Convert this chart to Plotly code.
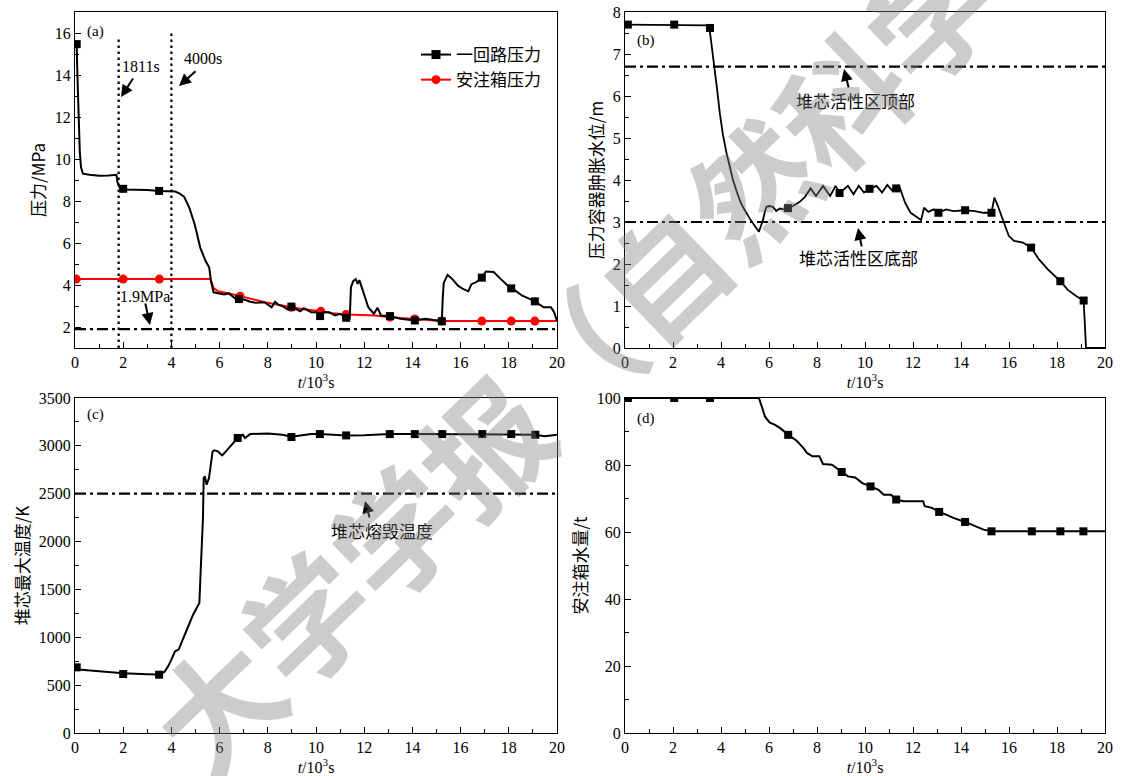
import plotly.graph_objects as go

# ---------------- data (time in 10^3 s) ----------------
# (a) pressures, MPa
t_a_primary = [0.0, 0.07, 0.1, 0.13, 0.17, 0.2, 0.25, 0.33, 0.6, 1.0, 1.4, 1.72, 1.76, 1.85, 2.0, 2.5, 3.0, 3.5,
               4.0, 4.16, 4.35, 4.53, 4.75, 4.97, 5.2, 5.42, 5.57, 5.64, 5.75, 5.94, 6.2, 6.38, 6.6, 6.83, 7.05,
               7.27, 7.5, 7.86, 8.0, 8.16, 8.3, 8.45, 8.6, 8.8, 8.98, 9.2, 9.35, 9.5, 9.8, 10.0, 10.17, 10.3,
               10.54, 10.8, 10.99, 11.25, 11.4, 11.45, 11.55, 11.65, 11.73, 11.8, 11.95, 12.17, 12.4, 12.55,
               12.7, 13.07, 13.5, 14.1, 14.55, 14.92, 15.22, 15.26, 15.3, 15.46, 15.66, 15.89, 16.1, 16.32,
               16.45, 16.63, 16.88, 17.05, 17.37, 17.67, 17.96, 18.14, 18.56, 18.86, 19.08, 19.45, 19.75,
               19.88, 20.0]
p_primary = [15.5, 15.4, 14.0, 12.5, 11.0, 10.3, 9.6, 9.3, 9.25, 9.2, 9.22, 9.25, 8.9, 8.65, 8.55, 8.55, 8.52,
             8.48, 8.45, 8.45, 8.35, 8.2, 7.66, 6.87, 5.77, 5.14, 4.83, 4.2, 3.65, 3.6, 3.55, 3.6, 3.4, 3.3,
             3.3, 3.2, 3.15, 3.18, 3.05, 2.94, 3.2, 3.05, 3.0, 2.85, 2.97, 2.86, 2.75, 2.9, 2.7, 2.7, 2.52,
             2.7, 2.7, 2.55, 2.63, 2.44, 2.4, 3.9, 4.2, 4.28, 4.05, 4.23, 3.73, 2.94, 2.63, 2.91, 2.55, 2.52,
             2.39, 2.31, 2.39, 2.31, 2.27, 3.4, 4.1, 4.48, 4.28, 3.97, 3.81, 3.7, 4.04, 4.12, 4.35, 4.64,
             4.62, 4.28, 3.97, 3.84, 3.49, 3.34, 3.22, 2.94, 2.94, 2.7, 2.3]
t_a_primary_mk = [0.07, 2.0, 3.49, 6.8, 8.98, 10.17, 11.25, 13.07, 14.1, 15.22, 16.88, 18.1, 19.08]
p_primary_mk = [15.47, 8.58, 8.48, 3.33, 2.97, 2.52, 2.44, 2.52, 2.31, 2.27, 4.35, 3.84, 3.22]

t_a_accum = [0.0, 5.62, 5.75, 5.94, 6.4, 6.85, 7.3, 8.0, 8.98, 9.5, 10.2, 10.7, 11.25, 12.45, 13.07, 14.1,
             15.22, 20.0]
p_accum = [4.28, 4.28, 3.85, 3.7, 3.6, 3.47, 3.33, 3.15, 2.94, 2.84, 2.75, 2.66, 2.6, 2.55, 2.47, 2.38, 2.29,
           2.28]
t_a_accum_mk = [0.05, 2.0, 3.5, 6.85, 8.98, 10.2, 11.25, 13.07, 14.1, 15.22, 16.88, 18.1, 19.08]
p_accum_mk = [4.28, 4.28, 4.28, 3.47, 2.94, 2.75, 2.6, 2.47, 2.38, 2.29, 2.28, 2.28, 2.28]

limit_a = [1.9]            # MPa
events_a = [1.811, 4.0]    # 10^3 s
events_top_a = [15.8, 16.0]

# (b) swollen water level in pressure vessel, m
t_b = [0.0, 3.49, 3.53, 3.64, 3.74, 3.85, 3.95, 4.08, 4.23, 4.36, 4.5, 4.64, 4.78, 4.92, 5.06, 5.2, 5.33,
       5.45, 5.58, 5.66, 5.75, 5.83, 5.89, 6.0, 6.17, 6.3, 6.45, 6.62, 6.79, 7.0, 7.28, 7.5, 7.73, 7.96,
       8.25, 8.55, 8.77, 8.94, 9.29, 9.52, 9.74, 9.96, 10.19, 10.48, 10.71, 10.93, 11.15, 11.3, 11.45, 11.67,
       11.9, 12.19, 12.34, 12.46, 12.64, 12.86, 13.06, 13.38, 13.68, 14.17, 14.57, 14.94, 15.27, 15.39,
       15.54, 15.76, 15.99, 16.21, 16.58, 16.92, 17.25, 17.62, 18.14, 18.44, 18.81, 19.11, 19.15, 19.21,
       20.0]
lvl_b = [7.7, 7.68, 7.57, 7.1, 6.62, 6.1, 5.59, 5.08, 4.64, 4.3, 4.0, 3.75, 3.52, 3.35, 3.2, 3.08, 2.97,
         2.87, 2.77, 2.9, 3.05, 3.25, 3.36, 3.38, 3.36, 3.26, 3.32, 3.3, 3.33, 3.38, 3.48, 3.6, 3.8, 3.62,
         3.86, 3.62, 3.86, 3.69, 3.86, 3.66, 3.86, 3.7, 3.79, 3.86, 3.7, 3.88, 3.74, 3.8, 3.82, 3.46, 3.22,
         3.1, 3.05, 3.34, 3.24, 3.3, 3.22, 3.3, 3.26, 3.28, 3.26, 3.22, 3.22, 3.58, 3.38, 3.03, 2.67, 2.55,
         2.51, 2.39, 2.11, 1.87, 1.59, 1.39, 1.23, 1.13, 0.76, 0.0, 0.0]
t_b_mk = [0.12, 2.05, 3.54, 6.79, 8.94, 10.19, 11.3, 13.06, 14.17, 15.27, 16.92, 18.14, 19.11]
lvl_b_mk = [7.7, 7.7, 7.62, 3.33, 3.69, 3.79, 3.8, 3.22, 3.28, 3.22, 2.39, 1.59, 1.13]
core_top_b = [6.7]
core_bottom_b = [3.0]

# (c) maximum core temperature, K
t_c = [0.0, 0.07, 0.5, 1.04, 2.0, 3.0, 3.49, 3.71, 3.86, 4.0, 4.15, 4.3, 4.45, 4.67, 4.9, 5.12, 5.16, 5.22,
       5.31, 5.34, 5.39, 5.46, 5.56, 5.71, 5.79, 5.93, 6.11, 6.26, 6.45, 6.68, 6.75, 6.97, 7.05, 7.27, 8.0,
       8.6, 8.98, 9.35, 9.8, 10.16, 11.25, 12.0, 13.06, 14.1, 15.24, 16.9, 18.1, 19.1, 19.5, 20.0]
temp_c = [696, 665, 655, 645, 625, 615, 612, 637, 696, 766, 853, 871, 957, 1097, 1236, 1340, 1358, 1724,
          2246, 2664, 2681, 2594, 2664, 2942, 2953, 2942, 2900, 2942, 2995, 3064, 3082, 3116, 3082, 3123,
          3130, 3116, 3095, 3109, 3123, 3123, 3109, 3110, 3123, 3123, 3123, 3123, 3123, 3116, 3100, 3115]
t_c_mk = [0.07, 2.0, 3.49, 6.75, 8.98, 10.16, 11.25, 13.06, 14.1, 15.24, 16.9, 18.1, 19.1]
temp_c_mk = [686, 616, 609, 3082, 3092, 3123, 3109, 3123, 3123, 3123, 3123, 3123, 3116]
melt_c = [2500]

# (d) accumulator water inventory, t
t_d = [0.0, 5.58, 5.72, 5.83, 6.02, 6.25, 6.47, 6.8, 7.14, 7.43, 7.58, 7.81, 8.1, 8.25, 8.62, 9.03, 9.29,
       9.59, 9.89, 10.23, 10.56, 10.78, 11.08, 11.3, 11.6, 12.42, 12.49, 12.79, 13.09, 13.38, 13.68, 14.17,
       14.57, 14.94, 15.27, 20.0]
mass_d = [100, 100, 97, 94.5, 92.7, 92.0, 91, 89, 87.3, 85.1, 83.6, 82.6, 82.6, 80.3, 80.1, 77.9, 76.6,
          76.3, 74.6, 73.6, 72.6, 71.1, 71.1, 69.7, 69.2, 69.2, 67.7, 67.2, 66.0, 65.2, 64.2, 63.0, 61.7,
          60.7, 60.2, 60.2]
t_d_mk = [0.12, 2.05, 3.54, 6.8, 9.03, 10.23, 11.3, 13.09, 14.17, 15.27, 16.95, 18.14, 19.1]
mass_d_mk = [100, 100, 100, 89, 77.9, 73.6, 69.7, 66.0, 63.0, 60.2, 60.2, 60.2, 60.2]

x_range = [0, 20]
series_names = ["一回路压力", "安注箱压力"]
watermark = "大学学报（自然科学"

# ---------------- figure ----------------
W, H = 1121, 776
CJK = "Noto Sans CJK SC"
SERIF = "Liberation Serif"
fig = go.Figure()

def line(x, y, ax, color="black", width=2, dash=None):
    fig.add_trace(go.Scatter(x=x, y=y, mode="lines", xaxis=ax[0], yaxis=ax[1], showlegend=False,
                             line=dict(color=color, width=width, dash=dash), hoverinfo="skip"))

def marks(x, y, ax, color="black", symbol="square", size=8):
    fig.add_trace(go.Scatter(x=x, y=y, mode="markers", xaxis=ax[0], yaxis=ax[1], showlegend=False,
                             marker=dict(color=color, symbol=symbol, size=size), hoverinfo="skip"))

DASHDOT = "11px,4px,3px,4px"
A, B, C, D = ("x", "y"), ("x2", "y2"), ("x3", "y3"), ("x4", "y4")

# panel a
for ev, top in zip(events_a, events_top_a):
    line([ev, ev], [1, top], A, width=2.2, dash="2.5px,3.5px")
line(x_range, limit_a * 2, A, width=2.2, dash=DASHDOT)
line(t_a_accum, p_accum, A, color="#ff0000", width=2)
marks(t_a_accum_mk, p_accum_mk, A, color="#ff0000", symbol="circle", size=9)
line(t_a_primary, p_primary, A, width=2)
marks(t_a_primary_mk, p_primary_mk, A)
fig.add_trace(go.Scatter(x=[None], y=[None], mode="lines+markers", name=series_names[0], xaxis="x", yaxis="y",
                         line=dict(color="black", width=2), marker=dict(symbol="square", size=9, color="black")))
fig.add_trace(go.Scatter(x=[None], y=[None], mode="lines+markers", name=series_names[1], xaxis="x", yaxis="y",
                         line=dict(color="#ff0000", width=2), marker=dict(symbol="circle", size=9, color="#ff0000")))

# panel b
line(x_range, core_top_b * 2, B, width=2.2, dash=DASHDOT)
line(x_range, core_bottom_b * 2, B, width=2.2, dash=DASHDOT)
line(t_b, lvl_b, B, width=1.8)
marks(t_b_mk, lvl_b_mk, B)

# panel c
line(x_range, melt_c * 2, C, width=2.2, dash=DASHDOT)
line(t_c, temp_c, C, width=2)
marks(t_c_mk, temp_c_mk, C)

# panel d
line(t_d, mass_d, D, width=2)
marks(t_d_mk, mass_d_mk, D)

tickfont = dict(family=SERIF, size=16, color="black")
xtitle = dict(text="<i>t</i>/10<sup>3</sup>s", font=dict(family=SERIF, size=16, color="black"), standoff=0)

def xax(dom, anchor):
    return dict(domain=dom, anchor=anchor, range=x_range, dtick=2, tick0=0, ticks="inside", ticklen=6,
                tickcolor="black", minor=dict(dtick=1, ticks="inside", ticklen=4, tickcolor="black"),
                showline=True, linecolor="black", linewidth=1, mirror=True, showgrid=False, zeroline=False,
                tickfont=tickfont, title=xtitle, automargin=False)

def yax(dom, anchor, rng, dt, mdt, title):
    return dict(domain=dom, anchor=anchor, range=rng, dtick=dt, tick0=0, ticks="inside", ticklen=6,
                tickcolor="black", minor=dict(dtick=mdt, ticks="inside", ticklen=4, tickcolor="black"),
                showline=True, linecolor="black", linewidth=1, mirror=True, showgrid=False, zeroline=False,
                tickfont=tickfont, automargin=False,
                title=dict(text=title, font=dict(family=CJK, size=17, color="black"), standoff=4))

XL = [75 / W, 557 / W]
XR = [625 / W, 1105 / W]
YT = [1 - 348 / H, 1 - 12 / H]
YB = [1 - 733 / H, 1 - 398 / H]

fig.update_layout(
    width=W, height=H, margin=dict(l=0, r=0, t=0, b=0, autoexpand=False),
    paper_bgcolor="white", plot_bgcolor="white",
    xaxis=xax(XL, "y"), yaxis=yax(YT, "x", [1, 17], 2, 1, "压力/MPa"),
    xaxis2=xax(XR, "y2"), yaxis2=yax(YT, "x2", [0, 8], 1, 0.5, "压力容器肿胀水位/m"),
    xaxis3=xax(XL, "y3"), yaxis3=yax(YB, "x3", [0, 3500], 500, 250, "堆芯最大温度/K"),
    xaxis4=xax(XR, "y4"), yaxis4=yax(YB, "x4", [0, 100], 20, 10, "安注箱水量/t"),
    showlegend=True,
    legend=dict(x=416 / W, y=1 - 37 / H, xanchor="left", yanchor="top", bgcolor="rgba(0,0,0,0)",
                font=dict(family=CJK, size=17, color="black"), tracegroupgap=0, itemwidth=30),
)

def px(xp, yp):
    return xp / W, 1 - yp / H

def label(text, xp, yp, size=16, family=SERIF):
    x, y = px(xp, yp)
    fig.add_annotation(x=x, y=y, xref="paper", yref="paper", text=text, showarrow=False,
                       font=dict(family=family, size=size, color="black"), xanchor="center", yanchor="middle")

def arrow(tipx, tipy, dx, dy):
    x, y = px(tipx, tipy)
    fig.add_annotation(x=x, y=y, xref="paper", yref="paper", text="", showarrow=True, ax=dx, ay=dy,
                       arrowhead=2, arrowsize=1.2, arrowwidth=2, arrowcolor="black")

label("(a)", 96, 32, 15)
label("1811s", 141, 66)
label("4000s", 203, 59)
label("1.9MPa", 145, 296)
arrow(121, 97, 13, -20)
arrow(179, 86, 18, -16)
arrow(150, 325, -5, -23)

label("(b)", 646, 40, 15)
label("堆芯活性区顶部", 855, 101, 17, CJK)
label("堆芯活性区底部", 858, 258, 17, CJK)
arrow(844, 69, 5, 20)
arrow(858, 228, 4, 20)

label("(c)", 96, 414, 15)
label("堆芯熔毁温度", 382, 530, 17, CJK)
arrow(365, 501, 5, 18)

label("(d)", 646, 418, 15)

# watermark
wx, wy = px(571, 357)
fig.add_annotation(x=wx, y=wy, xref="paper", yref="paper", text=watermark, showarrow=False, textangle=-44,
                   font=dict(family=CJK, size=124, color="rgba(128,128,128,0.40)", weight="bold"),
                   xanchor="center", yanchor="middle")

fig.write_html("out.html", config={"displayModeBar": False},
               post_script="document.body.style.margin='0';document.body.style.overflow='hidden';")
